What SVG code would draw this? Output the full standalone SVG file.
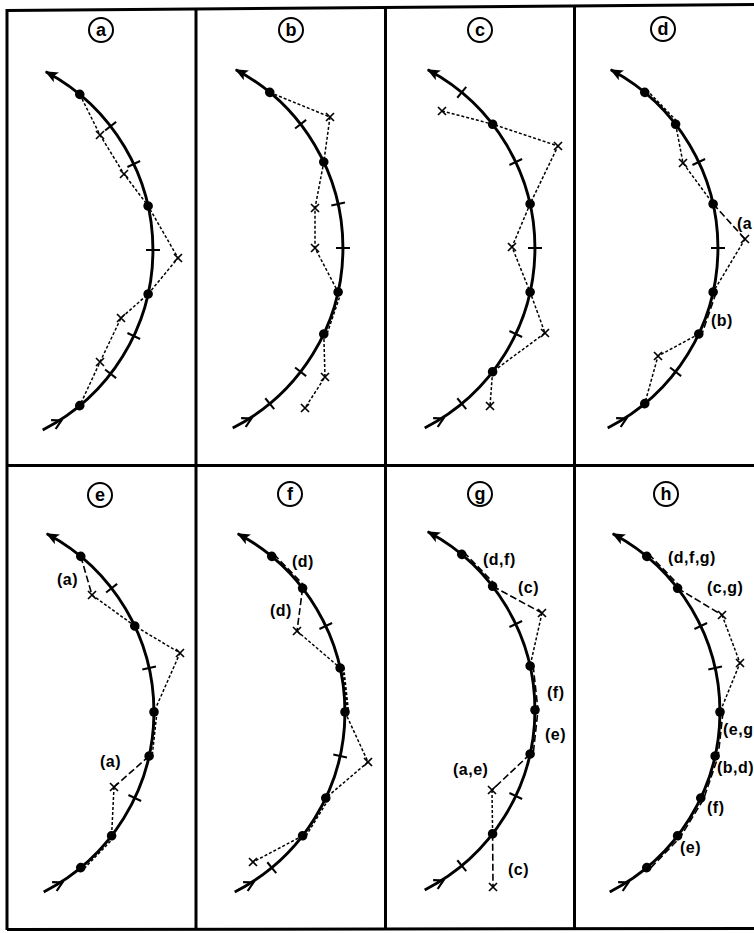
<svg xmlns="http://www.w3.org/2000/svg" xmlns:xlink="http://www.w3.org/1999/xlink" width="754" height="933" viewBox="0 0 754 933">
<style>
.frame{fill:none;stroke:#000;stroke-width:3}
.arc{fill:none;stroke:#000;stroke-width:2.9;marker-end:url(#ah);marker-start:url(#chev)}
.tk{stroke:#000;stroke-width:2}
.dt{fill:#000}
.xm{fill:none;stroke:#000;stroke-width:1.7}
.dot{fill:none;stroke:#000;stroke-width:1.5;stroke-dasharray:3 2}
.lng{fill:none;stroke:#000;stroke-width:1.6;stroke-dasharray:7 3}
.lbl{font-family:"Liberation Sans",Arial,sans-serif;font-size:16px;font-weight:bold;letter-spacing:0.5px}
.cl{fill:none;stroke:#000;stroke-width:2}
.ct{font-family:"Liberation Sans",Arial,sans-serif;font-size:18px;font-weight:bold;text-anchor:middle}
</style>
<defs>
<marker id="ah" markerUnits="userSpaceOnUse" viewBox="-15 -8 20 16" markerWidth="20" markerHeight="16" refX="0" refY="0" orient="auto"><path d="M-12,-5.5 L1,0 L-12,5.5 L-9,0 Z" fill="#000"/></marker>
<marker id="chev" markerUnits="userSpaceOnUse" viewBox="-2 -8 30 16" markerWidth="30" markerHeight="16" refX="0" refY="0" orient="auto"><path d="M12,-5 L21,0 L12,5" fill="none" stroke="#000" stroke-width="2.2"/></marker>
<line id="tk" class="tk" x1="195" y1="0" x2="209" y2="0"/>
<circle id="dt" class="dt" cx="202" cy="0" r="4.8"/>
<path id="xx" class="xm" d="M-4,-4 L4,4 M-4,4 L4,-4"/>
<path id="arcp" class="arc" d="M91.7,180 A202,202 0 0 0 94.8,-178.3"/>
</defs>
<rect width="754" height="933" fill="#fff"/>

<g id="frame" class="frame">
<line x1="7" y1="10.5" x2="754" y2="4.5"/>
<line x1="7" y1="9" x2="7" y2="930"/>
<line x1="7" y1="929.5" x2="754" y2="928.5"/>
<line x1="196" y1="9" x2="196" y2="930"/>
<line x1="385.5" y1="7" x2="385.5" y2="930"/>
<line x1="574.5" y1="6" x2="574.5" y2="929"/>
<line x1="7" y1="465.5" x2="754" y2="465.5"/>
</g>

<g id="panel-a">
<circle class="cl" cx="101" cy="30" r="12"/><text class="ct" x="101" y="36">a</text>
<g transform="translate(-49,250)">
<use xlink:href="#arcp"/>
<use xlink:href="#tk" transform="rotate(-37.8)"/><use xlink:href="#tk" transform="rotate(-25.2)"/><use xlink:href="#tk"/><use xlink:href="#tk" transform="rotate(25.2)"/><use xlink:href="#tk" transform="rotate(37.8)"/>
<use xlink:href="#dt" transform="rotate(-50.4)"/><use xlink:href="#dt" transform="rotate(-12.6)"/><use xlink:href="#dt" transform="rotate(12.6)"/><use xlink:href="#dt" transform="rotate(50.4)"/>
<path class="dot" d="M128.8,-155.6 L149,-115 L173,-76 L197.1,-44.1 L227,8 L197.1,44.1 L170,68 L149,112 L128.8,155.6"/>
<use xlink:href="#xx" x="149" y="-115"/><use xlink:href="#xx" x="173" y="-76"/><use xlink:href="#xx" x="227" y="8"/><use xlink:href="#xx" x="170" y="68"/><use xlink:href="#xx" x="149" y="112"/>
</g>
</g>

<g id="panel-b">
<circle class="cl" cx="291" cy="30" r="12"/><text class="ct" x="291" y="36">b</text>
<g transform="translate(141,248)">
<use xlink:href="#arcp"/>
<use xlink:href="#tk" transform="rotate(-37.8)"/><use xlink:href="#tk" transform="rotate(-12.6)"/><use xlink:href="#tk"/><use xlink:href="#tk" transform="rotate(37.8)"/><use xlink:href="#tk" transform="rotate(50.4)"/>
<use xlink:href="#dt" transform="rotate(-50.4)"/><use xlink:href="#dt" transform="rotate(-25.2)"/><use xlink:href="#dt" transform="rotate(12.6)"/><use xlink:href="#dt" transform="rotate(25.2)"/>
<path class="dot" d="M128.8,-155.6 L189,-131 L182.8,-86 L174,-40 L174,0 L197.1,44.1 M200.1,44.7 L185.5,87.3 M182.8,86 L184,129 L164,160"/>
<use xlink:href="#xx" x="189" y="-131"/><use xlink:href="#xx" x="174" y="-40"/><use xlink:href="#xx" x="174" y="0"/><use xlink:href="#xx" x="184" y="129"/><use xlink:href="#xx" x="164" y="160"/>
</g>
</g>

<g id="panel-c">
<circle class="cl" cx="480" cy="30" r="12"/><text class="ct" x="480" y="36">c</text>
<g transform="translate(333,248)">
<use xlink:href="#arcp"/>
<use xlink:href="#tk" transform="rotate(-50.4)"/><use xlink:href="#tk" transform="rotate(-25.2)"/><use xlink:href="#tk"/><use xlink:href="#tk" transform="rotate(25.2)"/><use xlink:href="#tk" transform="rotate(50.4)"/>
<use xlink:href="#dt" transform="rotate(-37.8)"/><use xlink:href="#dt" transform="rotate(-12.6)"/><use xlink:href="#dt" transform="rotate(12.6)"/><use xlink:href="#dt" transform="rotate(37.8)"/>
<path class="dot" d="M109,-137 L159.6,-123.8 L225,-102 L197.1,-44.1 L179,-1 L197.1,44.1 L212,85 L159.6,123.8 L157,158"/>
<use xlink:href="#xx" x="109" y="-137"/><use xlink:href="#xx" x="225" y="-102"/><use xlink:href="#xx" x="179" y="-1"/><use xlink:href="#xx" x="212" y="85"/><use xlink:href="#xx" x="157" y="158"/>
</g>
</g>

<g id="panel-d">
<circle class="cl" cx="663" cy="29" r="12"/><text class="ct" x="663" y="35">d</text>
<g transform="translate(516,248)">
<use xlink:href="#arcp"/>
<use xlink:href="#tk" transform="rotate(-25.2)"/><use xlink:href="#tk"/><use xlink:href="#tk" transform="rotate(37.8)"/>
<use xlink:href="#dt" transform="rotate(-50.4)"/><use xlink:href="#dt" transform="rotate(-37.8)"/><use xlink:href="#dt" transform="rotate(-12.6)"/><use xlink:href="#dt" transform="rotate(12.6)"/><use xlink:href="#dt" transform="rotate(25.2)"/><use xlink:href="#dt" transform="rotate(50.4)"/>
<path class="dot" d="M130.7,-158 L162,-125.6 M159.6,-123.8 L167,-85 L197.1,-44.1 M229,-9 L197.1,44.1 M182.8,86 L142,108 L128.8,155.6"/>
<path class="lng" d="M197.1,-44.1 L229,-9 M200.1,44.7 L185.5,87.3"/>
<use xlink:href="#xx" x="167" y="-85"/><use xlink:href="#xx" x="229" y="-9"/><use xlink:href="#xx" x="142" y="108"/>
</g>
<text class="lbl" x="737" y="229">(a</text>
<text class="lbl" x="711" y="326">(b)</text>
</g>

<g id="panel-e">
<circle class="cl" cx="100" cy="495" r="12"/><text class="ct" x="100" y="501">e</text>
<g transform="translate(-48,712)">
<use xlink:href="#arcp"/>
<use xlink:href="#tk" transform="rotate(-37.8)"/><use xlink:href="#tk" transform="rotate(-12.6)"/><use xlink:href="#tk" transform="rotate(25.2)"/>
<use xlink:href="#dt" transform="rotate(-50.4)"/><use xlink:href="#dt" transform="rotate(-25.2)"/><use xlink:href="#dt"/><use xlink:href="#dt" transform="rotate(12.6)"/><use xlink:href="#dt" transform="rotate(37.8)"/><use xlink:href="#dt" transform="rotate(50.4)"/>
<path class="lng" d="M128.8,-155.6 L140,-117 M197.1,44.1 L162,75"/>
<path class="dot" d="M140,-117 L182.8,-86 L228,-59 L202,0 M205,0 L200.1,44.7 M162,75 L159.6,123.8 M162,125.6 L130.7,158"/>
<use xlink:href="#xx" x="140" y="-117"/><use xlink:href="#xx" x="228" y="-59"/><use xlink:href="#xx" x="162" y="75"/>
</g>
<text class="lbl" x="57" y="585">(a)</text>
<text class="lbl" x="100" y="767">(a)</text>
</g>

<g id="panel-f">
<circle class="cl" cx="290" cy="494" r="12"/><text class="ct" x="290" y="500">f</text>
<g transform="translate(143,712)">
<use xlink:href="#arcp"/>
<use xlink:href="#tk" transform="rotate(-25.2)"/><use xlink:href="#tk" transform="rotate(12.6)"/><use xlink:href="#tk" transform="rotate(50.4)"/>
<use xlink:href="#dt" transform="rotate(-50.4)"/><use xlink:href="#dt" transform="rotate(-37.8)"/><use xlink:href="#dt" transform="rotate(-12.6)"/><use xlink:href="#dt"/><use xlink:href="#dt" transform="rotate(25.2)"/><use xlink:href="#dt" transform="rotate(37.8)"/>
<path class="lng" d="M130.7,-158 L162,-125.6 M159.6,-123.8 L154,-81"/>
<path class="dot" d="M154,-81 L197.1,-44.1 M202,0 L225,50 L182.8,86 M185.5,87.3 L162,125.6 M159.6,123.8 L110,150"/>
<path class="dot" style="stroke-width:2.6" d="M200.1,-44.7 L205,0"/>
<use xlink:href="#xx" x="154" y="-81"/><use xlink:href="#xx" x="225" y="50"/><use xlink:href="#xx" x="110" y="150"/>
</g>
<text class="lbl" x="292" y="567">(d)</text>
<text class="lbl" x="270" y="616">(d)</text>
</g>

<g id="panel-g">
<circle class="cl" cx="480" cy="494" r="12"/><text class="ct" x="480" y="500">g</text>
<g transform="translate(333,710)">
<use xlink:href="#arcp"/>
<use xlink:href="#tk" transform="rotate(-25.2)"/><use xlink:href="#tk" transform="rotate(25.2)"/><use xlink:href="#tk" transform="rotate(50.4)"/>
<use xlink:href="#dt" transform="rotate(-50.4)"/><use xlink:href="#dt" transform="rotate(-37.8)"/><use xlink:href="#dt" transform="rotate(-12.6)"/><use xlink:href="#dt"/><use xlink:href="#dt" transform="rotate(12.6)"/><use xlink:href="#dt" transform="rotate(37.8)"/>
<path class="lng" d="M130.7,-158 L162,-125.6 M159.6,-123.8 L209,-97 M200.1,-44.7 L205,0 L200.1,44.7 M197.1,44.1 L159,80 M159.6,123.8 L160,177"/>
<path class="dot" d="M209,-97 L197.1,-44.1 M159,80 L159.6,123.8"/>
<use xlink:href="#xx" x="209" y="-97"/><use xlink:href="#xx" x="159" y="80"/><use xlink:href="#xx" x="160" y="177"/>
</g>
<text class="lbl" x="483" y="565">(d,f)</text>
<text class="lbl" x="518" y="593">(c)</text>
<text class="lbl" x="547" y="698">(f)</text>
<text class="lbl" x="545" y="740">(e)</text>
<text class="lbl" x="453" y="775">(a,e)</text>
<text class="lbl" x="508" y="875">(c)</text>
</g>

<g id="panel-h">
<circle class="cl" cx="666" cy="494" r="12"/><text class="ct" x="666" y="500">h</text>
<g transform="translate(518,712)">
<use xlink:href="#arcp"/>
<use xlink:href="#tk" transform="rotate(-25.2)"/><use xlink:href="#tk" transform="rotate(-12.6)"/>
<use xlink:href="#dt" transform="rotate(-50.4)"/><use xlink:href="#dt" transform="rotate(-37.8)"/><use xlink:href="#dt"/><use xlink:href="#dt" transform="rotate(12.6)"/><use xlink:href="#dt" transform="rotate(25.2)"/><use xlink:href="#dt" transform="rotate(37.8)"/><use xlink:href="#dt" transform="rotate(50.4)"/>
<path class="lng" d="M130.7,-158 L162,-125.6 M159.6,-123.8 L204,-97 M205,0 L200.1,44.7 L185.5,87.3 L162,125.6 L130.7,158"/>
<path class="dot" d="M204,-97 L222,-49 L202,0"/>
<use xlink:href="#xx" x="204" y="-97"/><use xlink:href="#xx" x="222" y="-49"/>
</g>
<text class="lbl" x="668" y="563">(d,f,g)</text>
<text class="lbl" x="707" y="593">(c,g)</text>
<text class="lbl" x="723" y="735">(e,g</text>
<text class="lbl" x="717" y="773">(b,d)</text>
<text class="lbl" x="707" y="813">(f)</text>
<text class="lbl" x="680" y="853">(e)</text>
</g>
</svg>
